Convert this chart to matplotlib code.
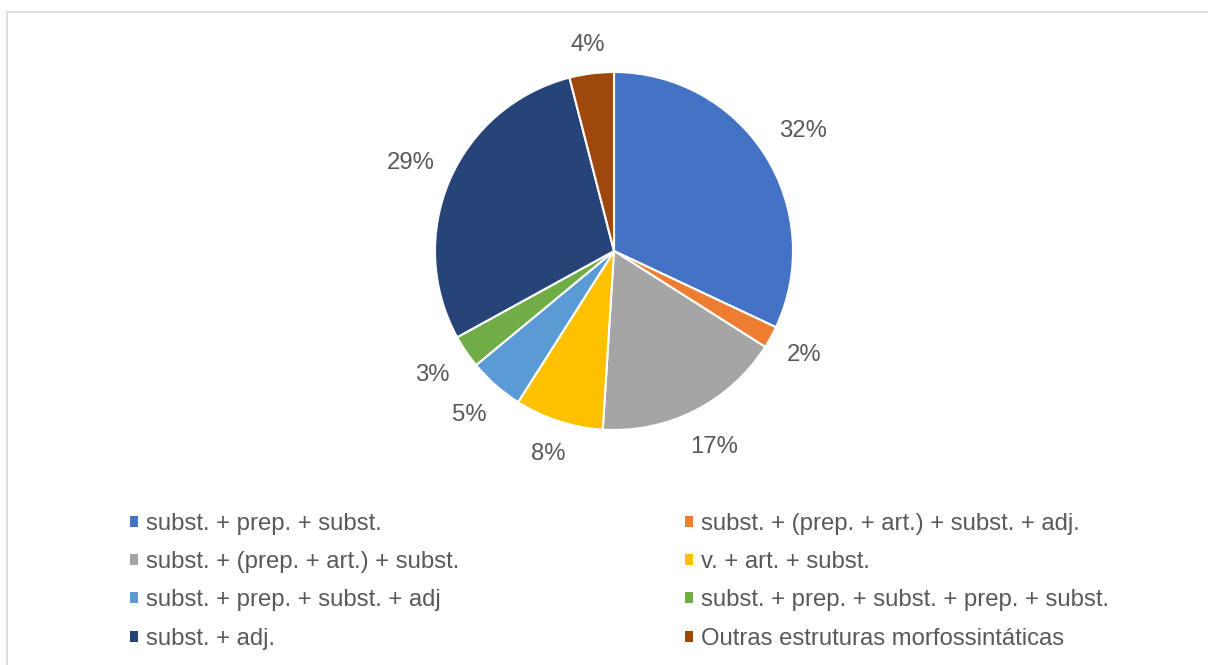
import numpy as np
import matplotlib.pyplot as plt
from matplotlib.patches import Rectangle, Patch

plt.rcParams['font.family'] = ['Liberation Sans', 'DejaVu Sans']

categories = [
    'subst. + prep. + subst.',
    'subst. + (prep. + art.) + subst. + adj.',
    'subst. + (prep. + art.) + subst.',
    'v. + art. + subst.',
    'subst. + prep. + subst. + adj',
    'subst. + prep. + subst. + prep. + subst.',
    'subst. + adj.',
    'Outras estruturas morfossintáticas',
]
shares = [32, 2, 17, 8, 5, 3, 29, 4]
colors = ['#4472C4', '#ED7D31', '#A5A5A5', '#FFC000',
          '#5B9BD5', '#70AD47', '#264478', '#9E480E']

# radial distance of each percentage label (in pie radii)
label_dist = [1.25, 1.21, 1.23, 1.19, 1.22, 1.23, 1.24, 1.16]

W, H = 1208, 665
fig = plt.figure(figsize=(W / 100, H / 100), dpi=100)

# light chart-area border (runs off the right and bottom edges)
fig.patches.append(Rectangle((7.5 / W, -0.1), 1.2, 1 - 11.5 / H + 0.1,
                             transform=fig.transFigure, fill=False,
                             edgecolor='#D9D9D9', linewidth=1.3))

cx, cy, r = 614, 251, 179
half = 1.3 * r
ax = fig.add_axes([(cx - half) / W, (H - cy - half) / H, 2 * half / W, 2 * half / H])
wedges, texts, autotexts = ax.pie(
    shares, colors=colors, startangle=90, counterclock=False,
    autopct='%1.0f%%', pctdistance=1.2,
    wedgeprops=dict(edgecolor='white', linewidth=1.5),
    textprops=dict(color='#595959', fontsize=17.2))

for w, t, d in zip(wedges, autotexts, label_dist):
    ang = np.deg2rad((w.theta1 + w.theta2) / 2)
    t.set_position((d * np.cos(ang), d * np.sin(ang)))

ax.set_xlim(-1.3, 1.3)
ax.set_ylim(-1.3, 1.3)
ax.set_aspect('equal')
ax.axis('off')

# two-column legend filled row by row
order = [0, 2, 4, 6, 1, 3, 5, 7]
handles = [Patch(facecolor=colors[i], edgecolor='none') for i in order]
labels = [categories[i] for i in order]
fig.legend(handles, labels, ncol=2, frameon=False,
           loc='upper left', bbox_to_anchor=(130 / W, 1 - 513 / H),
           fontsize=17.2, labelcolor='#595959',
           handlelength=0.33, handleheight=0.33, handletextpad=0.33,
           labelspacing=0.68, columnspacing=9.47, borderaxespad=0,
           borderpad=0)

fig.savefig('out.png', dpi=100)
